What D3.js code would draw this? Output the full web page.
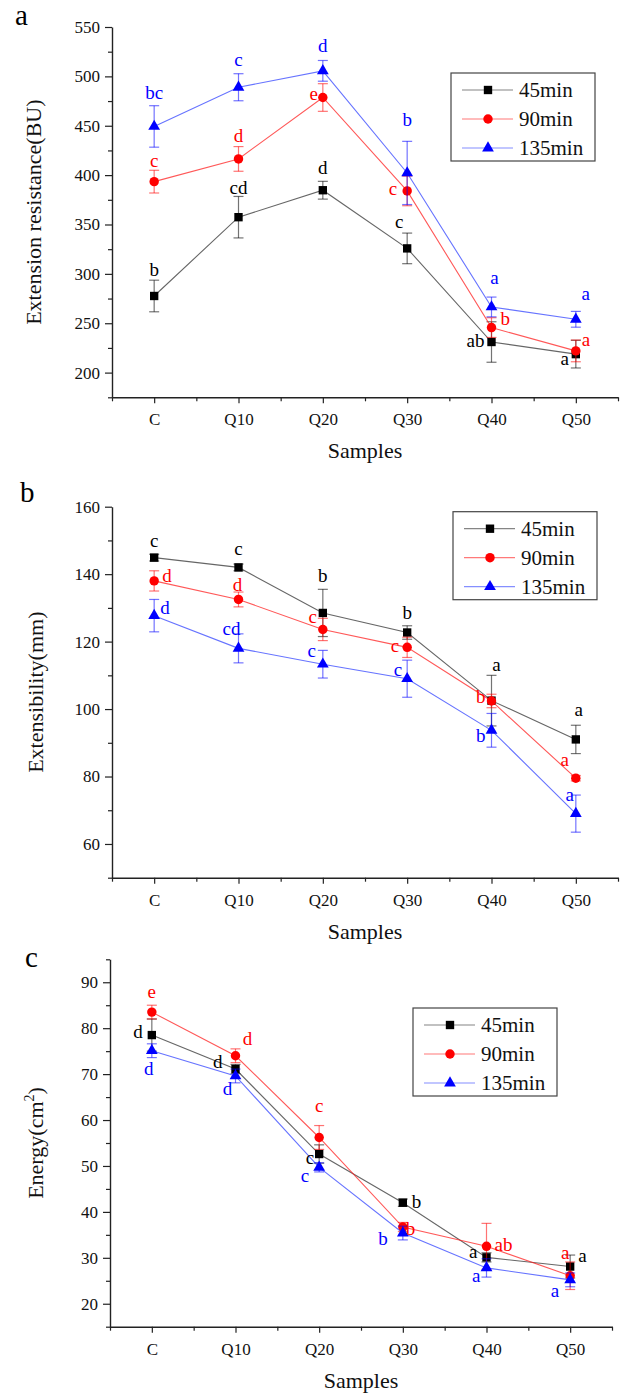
<!DOCTYPE html>
<html>
<head>
<meta charset="utf-8">
<script src="https://cdn.jsdelivr.net/npm/d3@7"></script>
<style>
  body { margin: 0; background: #fff; }
  svg { display: block; }
  text { font-family: "Liberation Serif", "Times New Roman", serif; }
</style>
</head>
<body>
<script>

// ---- data ----
var samples = ["C", "Q10", "Q20", "Q30", "Q40", "Q50"];
var seriesNames = ["45min", "90min", "135min"];

// (a) extension resistance, BU
var resist45 = [277.6, 357.4, 384.7, 325.8, 231.0, 218.7];
var resist90 = [393.4, 416.4, 478.6, 384.0, 245.6, 222.0];
var resist135 = [449.3, 489.0, 505.6, 402.2, 266.5, 254.0];
var resistErr45 = [16, 21, 9, 15.5, 20.5, 14];
var resistErr90 = [11.5, 12.5, 14, 15, 10, 11];
var resistErr135 = [21, 13.7, 10.5, 32, 10, 8];
var resistSig45 = ["b", "cd", "d", "c", "ab", "a"];
var resistSig90 = ["c", "d", "e", "c", "b", "a"];
var resistSig135 = ["bc", "c", "d", "b", "a", "a"];
var resistTicks = [200, 250, 300, 350, 400, 450, 500, 550];

// (b) extensibility, mm
var ext45 = [144.9, 142.0, 128.5, 122.7, 102.5, 91.0];
var ext90 = [138.0, 132.5, 123.6, 118.3, 102.4, 79.5];
var ext135 = [127.7, 118.0, 113.3, 109.0, 93.7, 69.0];
var extErr45 = [1, 1, 7, 2, 7.5, 4.2];
var extErr90 = [3, 2.2, 3.3, 3, 2, 0.8];
var extErr135 = [4.8, 4.3, 4.1, 5.5, 5, 5.5];
var extSig45 = ["c", "c", "b", "b", "a", "a"];
var extSig90 = ["d", "d", "c", "c", "b", "a"];
var extSig135 = ["d", "cd", "c", "c", "b", "a"];
var extTicks = [60, 80, 100, 120, 140, 160];

// (c) energy, cm2
var energy45 = [78.5, 71.1, 52.6, 42.0, 30.1, 28.1];
var energy90 = [83.5, 74.0, 56.2, 36.7, 32.5, 26.1];
var energy135 = [75.1, 69.6, 49.7, 35.4, 27.8, 25.2];
var energyErr45 = [3.5, 1, 2, 0.8, 1, 2.5];
var energyErr90 = [1.5, 1.5, 2.6, 1, 5, 3];
var energyErr135 = [1.5, 1.5, 1, 1.5, 2, 1.5];
var energySig45 = ["d", "d", "c", "b", "a", "a"];
var energySig90 = ["e", "d", "c", "b", "ab", "a"];
var energySig135 = ["d", "d", "c", "b", "a", "a"];
var energyTicks = [20, 30, 40, 50, 60, 70, 80, 90];

// ---- layout ----
var width = 622, height = 1394;
var colors = ["#000000", "#ff0000", "#0000ff"];
var lineColors = ["#333333", "#ff2020", "#3344ff"];
var symbols = [d3.symbolSquare, d3.symbolCircle, d3.symbolTriangle];
var symbolSizes = [70, 70, 60];

// letter placement: [anchor, dx, dy] relative to the point
var anchors = { m: "middle", s: "start", e: "end" };

var panels = [
    {
        letter: "a", letterPos: [15, 25],
        title: "Extension resistance(BU)", titleX: 41,
        values: [resist45, resist90, resist135],
        errors: [resistErr45, resistErr90, resistErr135],
        sig: [resistSig45, resistSig90, resistSig135],
        ticks: resistTicks, minorStep: 25,
        yDomain: [175, 550], top: 27, bottom: 397.3, left: 112, right: 618,
        legend: [451, 73],
        place: [
            [["m", 0, -20], ["m", 0, -23], ["m", 0, -16], ["m", -8, -20], ["e", -7, 5], ["e", -7, 11]],
            [["m", 0, -15], ["m", 0, -17], ["e", -5, 2], ["e", -10, 4], ["s", 9, -3], ["s", 6, -5]],
            [["m", 0, -27], ["m", 0, -21], ["m", 0, -19], ["m", 0, -47], ["m", 3, -23], ["m", 10, -19]]
        ]
    },
    {
        letter: "b", letterPos: [20, 502],
        title: "Extensibility(mm)", titleX: 43,
        values: [ext45, ext90, ext135],
        errors: [extErr45, extErr90, extErr135],
        sig: [extSig45, extSig90, extSig135],
        ticks: extTicks, minorStep: 10,
        yDomain: [50, 160], top: 506.7, bottom: 877.7, left: 112, right: 618,
        legend: [453, 511.7],
        place: [
            [["m", 0, -11], ["m", 0, -12], ["m", 0, -31], ["m", 0, -14], ["m", 5, -30], ["m", 3, -23]],
            [["s", 8, 1], ["m", -1, -8], ["e", -6, -6], ["e", -8, 5], ["e", -6, 2], ["m", -11, -12]],
            [["s", 6, -2], ["m", -7, -13], ["e", -7, -7], ["e", -5, -3], ["e", -6, 12], ["m", -6, -13]]
        ]
    },
    {
        letter: "c", letterPos: [25, 967],
        title: "Energy(cm", titleSup: "2", titleEnd: ")", titleX: 43,
        values: [energy45, energy90, energy135],
        errors: [energyErr45, energyErr90, energyErr135],
        sig: [energySig45, energySig90, energySig135],
        ticks: energyTicks, minorStep: 5,
        yDomain: [15, 95], top: 959.3, bottom: 1326.7, left: 110, right: 612,
        legend: [413, 1008],
        place: [
            [["e", -9, 3], ["e", -13, -1], ["e", -5, 10], ["s", 9, 5], ["e", -9, 1], ["s", 8, -5]],
            [["m", 0, -14], ["m", 12, -11], ["m", 0, -25], ["s", 3, 8], ["s", 8, 5], ["m", -5, -17]],
            [["m", -3, 24], ["m", -8, 19], ["e", -10, 15], ["e", -15, 12], ["e", -6, 14], ["e", -11, 17]]
        ]
    }
];

var svg = d3.select("body").append("svg")
    .attr("width", width)
    .attr("height", height);

svg.append("rect").attr("width", width).attr("height", height).attr("fill", "#fff");

function drawPanel(p) {
    var g = svg.append("g");

    var x = d3.scalePoint().domain(samples).range([p.left, p.right]).padding(0.5);
    var xMinor = d3.scaleLinear().domain([-0.5, samples.length - 0.5]).range([p.left, p.right]);
    var y = d3.scaleLinear().domain(p.yDomain).range([p.bottom, p.top]);

    var minorY = d3.range(p.yDomain[0], p.yDomain[1] + 0.001, p.minorStep)
        .filter(function (v) { return p.ticks.indexOf(v) < 0; });

    // y axis
    g.append("g")
        .attr("transform", "translate(" + p.left + ",0)")
        .call(d3.axisLeft(y).tickValues(minorY).tickSize(4).tickFormat("").tickSizeOuter(0))
        .call(function (a) { a.select(".domain").remove(); });
    g.append("g")
        .attr("transform", "translate(" + p.left + ",0)")
        .call(d3.axisLeft(y).tickValues(p.ticks).tickSize(7).tickPadding(5).tickSizeOuter(0));

    // x axis
    g.append("g")
        .attr("transform", "translate(0," + p.bottom + ")")
        .call(d3.axisBottom(xMinor).tickValues(d3.range(-0.5, samples.length, 1)).tickSize(4).tickFormat("").tickSizeOuter(0))
        .call(function (a) { a.select(".domain").remove(); });
    g.append("g")
        .attr("transform", "translate(0," + p.bottom + ")")
        .call(d3.axisBottom(x).tickSize(6).tickPadding(10).tickSizeOuter(0));

    g.selectAll(".domain").attr("stroke", "#222").attr("stroke-width", 1.4);
    g.selectAll(".tick line").attr("stroke", "#222").attr("stroke-width", 1.2);
    g.selectAll(".tick text").attr("font-size", 17).attr("fill", "#111")
        .style("font-family", '"Liberation Serif", serif');

    // axis titles
    g.append("text")
        .attr("x", (p.left + p.right) / 2)
        .attr("y", p.bottom + 61)
        .attr("text-anchor", "middle")
        .attr("font-size", 22)
        .attr("fill", "#111")
        .text("Samples");

    var t = g.append("text")
        .attr("transform", "translate(" + p.titleX + "," + (p.top + p.bottom) / 2 + ") rotate(-90)")
        .attr("text-anchor", "middle")
        .attr("font-size", 22)
        .attr("fill", "#111");
    t.append("tspan").text(p.title);
    if (p.titleSup) {
        t.append("tspan").attr("font-size", 14).attr("dy", -9).text(p.titleSup);
        t.append("tspan").attr("dy", 9).text(p.titleEnd);
    }

    g.append("text")
        .attr("x", p.letterPos[0])
        .attr("y", p.letterPos[1])
        .attr("font-size", 29)
        .attr("fill", "#000")
        .text(p.letter);

    var line = d3.line()
        .x(function (d, i) { return x(samples[i]); })
        .y(function (d) { return y(d); });

    p.values.forEach(function (vals, s) {
        var sg = g.append("g");
        sg.append("path")
            .datum(vals)
            .attr("d", line)
            .attr("fill", "none")
            .attr("stroke", lineColors[s])
            .attr("stroke-opacity", 0.75)
            .attr("stroke-width", 1.1);

        // error bars
        var eb = sg.selectAll(".err")
            .data(vals)
            .enter().append("g")
            .attr("stroke", colors[s])
            .attr("stroke-opacity", 0.55)
            .attr("stroke-width", 1.2);
        eb.append("line")
            .attr("x1", function (d, i) { return x(samples[i]); })
            .attr("x2", function (d, i) { return x(samples[i]); })
            .attr("y1", function (d, i) { return y(d - p.errors[s][i]); })
            .attr("y2", function (d, i) { return y(d + p.errors[s][i]); });
        [-1, 1].forEach(function (sign) {
            eb.append("line")
                .attr("x1", function (d, i) { return x(samples[i]) - 5; })
                .attr("x2", function (d, i) { return x(samples[i]) + 5; })
                .attr("y1", function (d, i) { return y(d + sign * p.errors[s][i]); })
                .attr("y2", function (d, i) { return y(d + sign * p.errors[s][i]); });
        });

        sg.selectAll(".pt")
            .data(vals)
            .enter().append("path")
            .attr("d", d3.symbol().type(symbols[s]).size(symbolSizes[s]))
            .attr("transform", function (d, i) { return "translate(" + x(samples[i]) + "," + y(d) + ")"; })
            .attr("fill", colors[s]);
    });

    // significance letters on top
    p.values.forEach(function (vals, s) {
        g.selectAll(null)
            .data(vals)
            .enter().append("text")
            .attr("x", function (d, i) { return x(samples[i]) + p.place[s][i][1]; })
            .attr("y", function (d, i) { return y(d) + p.place[s][i][2]; })
            .attr("text-anchor", function (d, i) { return anchors[p.place[s][i][0]]; })
            .attr("font-size", 19)
            .attr("fill", colors[s])
            .text(function (d, i) { return p.sig[s][i]; });
    });

    // legend
    var lx = p.legend[0], ly = p.legend[1];
    var lg = g.append("g");
    lg.append("rect")
        .attr("x", lx).attr("y", ly)
        .attr("width", 144).attr("height", 88)
        .attr("fill", "#fff")
        .attr("stroke", "#444")
        .attr("stroke-width", 1.2);
    seriesNames.forEach(function (name, s) {
        var ry = ly + 17 + s * 29;
        lg.append("line")
            .attr("x1", lx + 11).attr("x2", lx + 62)
            .attr("y1", ry).attr("y2", ry)
            .attr("stroke", lineColors[s])
            .attr("stroke-opacity", 0.6)
            .attr("stroke-width", 1.2);
        lg.append("path")
            .attr("d", d3.symbol().type(symbols[s]).size(symbolSizes[s]))
            .attr("transform", "translate(" + (lx + 37) + "," + ry + ")")
            .attr("fill", colors[s]);
        lg.append("text")
            .attr("x", lx + 68)
            .attr("y", ry + 7)
            .attr("font-size", 21)
            .attr("fill", "#111")
            .text(name);
    });
}

panels.forEach(drawPanel);

</script>
</body>
</html>
